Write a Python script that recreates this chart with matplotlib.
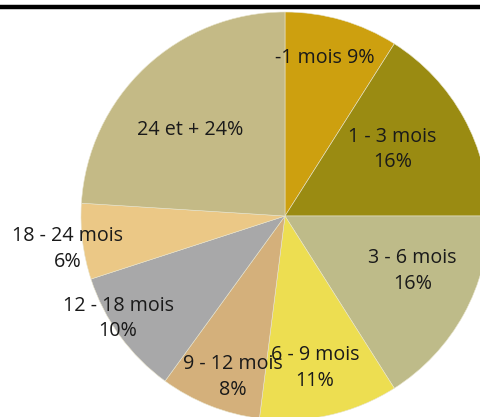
import numpy as np
import matplotlib
matplotlib.use('Agg')
import matplotlib.pyplot as plt
from matplotlib.lines import Line2D

categories = ['-1 mois', '1 - 3 mois', '3 - 6 mois', '6 - 9 mois',
              '9 - 12 mois', '12 - 18 mois', '18 - 24 mois', '24 et +']
shares = [9, 16, 16, 11, 8, 10, 6, 24]
label_texts = ['-1 mois 9%', '1 - 3 mois\n16%', '3 - 6 mois\n16%', '6 - 9 mois\n11%',
               '9 - 12 mois\n8%', '12 - 18 mois\n10%', '18 - 24 mois\n6%', '24 et + 24%']

colours = ['#cda00f', '#9a8b12', '#bebb89', '#edde51',
           '#d4b07b', '#a8a8a9', '#ebc886', '#c4ba86']
# radial position of each label, as a fraction of the radius
label_r = [0.80, 0.62, 0.68, 0.76, 0.83, 0.96, 1.076, 0.63]
label_shift = [2.0, 3.0, 5.5, -1.5, 3.5, -4.5, 1.4, 4.5]

W, H = 480, 417
fig = plt.figure(figsize=(W / 100, H / 100), dpi=100)
ax = fig.add_axes([0, 0, 1, 1])

cx, cy, R = 285, H - 216, 204
wedges, _ = ax.pie(shares, colors=colours, startangle=90, counterclock=False,
                   center=(cx, cy), radius=R, frame=True,
                   wedgeprops=dict(edgecolor='#e8e4cc', linewidth=0.4))

for w, txt, fr, sh in zip(wedges, label_texts, label_r, label_shift):
    ang = np.deg2rad((w.theta1 + w.theta2) / 2 + sh)
    ax.text(cx + fr * R * np.cos(ang), cy + fr * R * np.sin(ang), txt,
            ha='center', va='center', fontsize=14.2, color='#1a1a1a',
            family='Open Sans', linespacing=1.36)

ax.set_xlim(0, W)
ax.set_ylim(0, H)
ax.axis('off')

fig.add_artist(Line2D([0, 1], [1 - 7 / H, 1 - 7 / H], color='black', linewidth=3.2,
                      transform=fig.transFigure))

fig.savefig('out.png', dpi=100)
